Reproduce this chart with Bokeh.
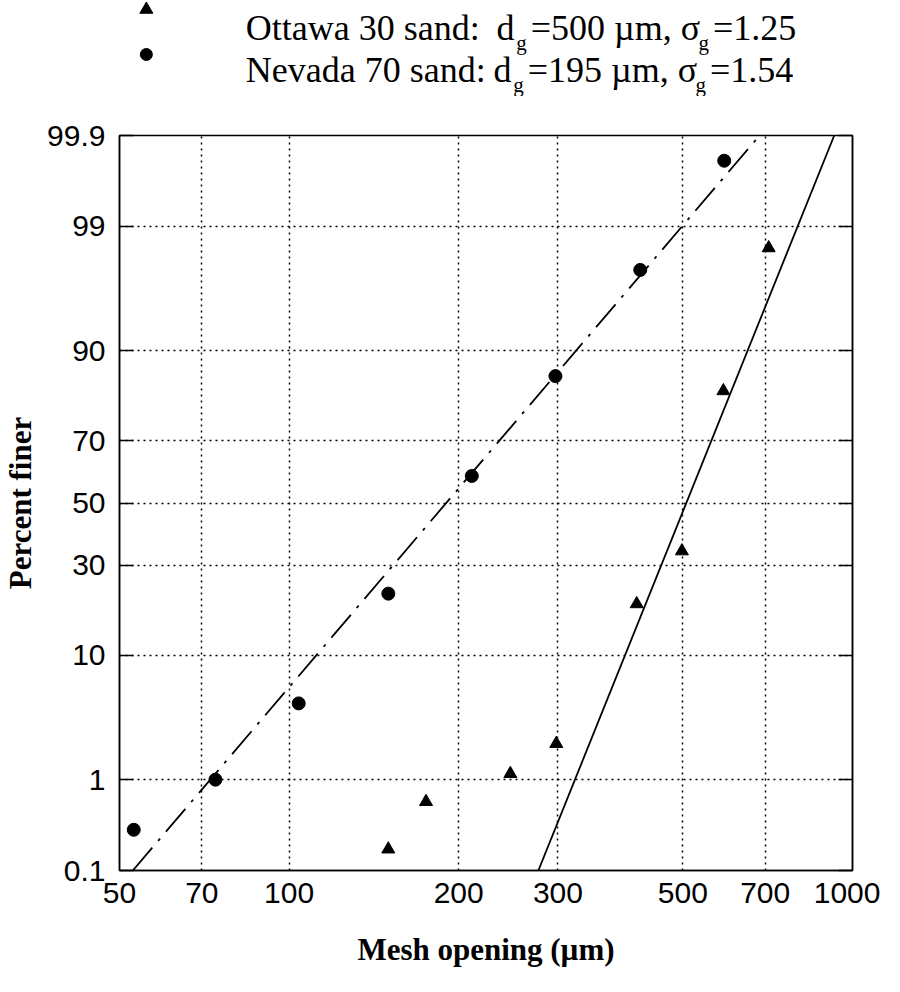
from statistics import NormalDist
from bokeh.plotting import figure
from bokeh.models import FixedTicker, LinearAxis, Range1d, PrintfTickFormatter
from bokeh.layouts import column
from bokeh.embed import file_html
from bokeh.resources import INLINE
from bokeh.core.properties import value

# ---------------- data ----------------
ottawa_size = [150, 175, 247, 298, 414, 498, 590, 710]          # mesh opening (um)
ottawa_pct = [0.18, 0.60, 1.14, 2.15, 19.8, 34.3, 82.7, 98.4]    # percent finer
nevada_size = [53, 74, 104, 150, 211, 297, 420, 592]
nevada_pct = [0.30, 1.0, 4.6, 22.3, 59.0, 85.7, 97.5, 99.8]
ottawa_fit_size = [277, 928]
ottawa_fit_pct = [0.1, 99.9]
nevada_fit_size = [52.8, 684]
nevada_fit_pct = [0.1, 99.9]
x_ticks = [50, 70, 100, 200, 300, 500, 700, 1000]
y_tick_pct = [0.1, 1, 10, 30, 50, 70, 90, 99, 99.9]
y_tick_labels = ["0.1", "1", "10", "30", "50", "70", "90", "99", "99.9"]
legend_rows = [
    [("Ottawa 30 sand:", False), ("  d", False), ("g", True), ("=500 µm, σ", False), ("g", True), ("=1.25", False)],
    [("Nevada 70 sand:", False), (" d", False), ("g", True), ("=195 µm, σ", False), ("g", True), ("=1.54", False)],
]
legend_markers = ["triangle", "circle"]

nd = NormalDist()


def probit(pc):
    return round(nd.inv_cdf(pc / 100.0), 6)


SERIF = value("Liberation Serif")
SANS = "Liberation Sans"

FIG_W = 880
BORDER_L, BORDER_R = 115, 28
FRAME_W = FIG_W - BORDER_L - BORDER_R

# ---------------- legend figure (frame aligned with the main frame) ----------------
LH = 96
leg = figure(width=FIG_W, height=LH, x_range=Range1d(0, FRAME_W), y_range=Range1d(LH, 0),
             title=None, output_backend="svg", toolbar_location=None,
             min_border_left=BORDER_L, min_border_right=BORDER_R,
             min_border_top=0, min_border_bottom=0,
             x_axis_location=None, y_axis_location=None)
leg.outline_line_color = None
leg.xgrid.visible = False
leg.ygrid.visible = False

TIMES = {' ': 250, 'O': 722, 'N': 722, 't': 278, 'a': 444, 'w': 722, 'e': 444, 'v': 500,
         'd': 500, 's': 389, 'n': 500, ':': 278, 'g': 500, '=': 564, 'µ': 500, 'm': 778,
         ',': 250, 'σ': 540, '.': 250}


def tw(s, size):
    return sum(TIMES.get(c, 500) for c in s) / 1000.0 * size


F_MAIN, F_SUB = 36, 21
SUB_DROP, SUB_PAD_L, SUB_PAD_R = 15, 2, 4
marker_x = 27
text_x0 = 127
baselines = [27, 69]
marker_y = [9, 54]
for row, base, mk, my in zip(legend_rows, baselines, legend_markers, marker_y):
    leg.scatter([marker_x], [my], marker=mk, size=13 if mk == "triangle" else 12, color="black")
    x = text_x0
    for txt, sub in row:
        size = F_SUB if sub else F_MAIN
        stripped = txt.lstrip(" ")
        x += tw(txt[: len(txt) - len(stripped)], size)
        if sub:
            x += SUB_PAD_L
        leg.text([x], [base + (SUB_DROP if sub else 0)], text=[stripped], text_font=SERIF,
                 text_font_size=f"{size}px", text_color="black",
                 text_baseline="alphabetic", text_align="left")
        x += tw(stripped, size)
        if sub:
            x += SUB_PAD_R

# ---------------- main figure ----------------
p = figure(width=FIG_W, height=976 - LH, x_axis_type="log",
           x_range=Range1d(50, 1000), y_range=Range1d(probit(0.1), probit(99.9)),
           title=None, output_backend="svg", toolbar_location=None,
           min_border_left=BORDER_L, min_border_right=BORDER_R,
           min_border_top=143 - 8 - LH, min_border_bottom=106)
p.outline_line_color = "black"
p.outline_line_width = 1.5

yt = [probit(v) for v in y_tick_pct]

p.xaxis.ticker = FixedTicker(ticks=x_ticks)
p.xaxis.formatter = PrintfTickFormatter(format="%d")
p.yaxis.ticker = FixedTicker(ticks=yt)
p.yaxis.major_label_overrides = {t: l for t, l in zip(yt, y_tick_labels)}

for ax in (p.xaxis[0], p.yaxis[0]):
    ax.axis_line_color = "black"
    ax.axis_line_width = 1.5
    ax.major_label_text_font = SANS
    ax.major_label_text_font_size = "30px"
    ax.major_label_text_color = "black"
    ax.minor_tick_line_color = None
    ax.axis_label_text_font = "Liberation Serif"
    ax.axis_label_text_font_style = "bold"
    ax.axis_label_text_font_size = "31px"
    ax.axis_label_text_color = "black"

p.xaxis.major_tick_in = 0
p.xaxis.major_tick_out = 0
p.xaxis.major_label_standoff = 12
p.xaxis.axis_label = "Mesh opening (µm)"
p.xaxis.axis_label_standoff = 26

p.yaxis.major_tick_in = 14
p.yaxis.major_tick_out = 0
p.yaxis.major_tick_line_color = "black"
p.yaxis.major_tick_line_width = 1.5
p.yaxis.major_label_standoff = 14
p.yaxis.axis_label = "Percent finer"
p.yaxis.axis_label_standoff = 6

right = LinearAxis(ticker=FixedTicker(ticks=yt), major_tick_in=14, major_tick_out=0,
                   major_tick_line_width=1.5, minor_tick_line_color=None,
                   major_label_overrides={t: "" for t in yt}, major_label_standoff=0,
                   axis_line_color="black", axis_line_width=1.5)
p.add_layout(right, "right")

p.xgrid.ticker = FixedTicker(ticks=x_ticks)
p.ygrid.ticker = FixedTicker(ticks=yt)
for g in (p.xgrid[0], p.ygrid[0]):
    g.grid_line_color = "black"
    g.grid_line_width = 1.5
    g.grid_line_dash = "2 4"

p.line(nevada_fit_size, [probit(v) for v in nevada_fit_pct], line_color="black",
       line_width=1.8, line_dash="30 9 3 9")
p.line(ottawa_fit_size, [probit(v) for v in ottawa_fit_pct], line_color="black", line_width=1.8)

p.scatter(nevada_size, [probit(v) for v in nevada_pct], marker="circle", size=13, color="black")
p.scatter(ottawa_size, [probit(v) for v in ottawa_pct], marker="triangle", size=13, color="black")

layout = column(leg, p)
open("out.html", "w").write(file_html(layout, INLINE))
